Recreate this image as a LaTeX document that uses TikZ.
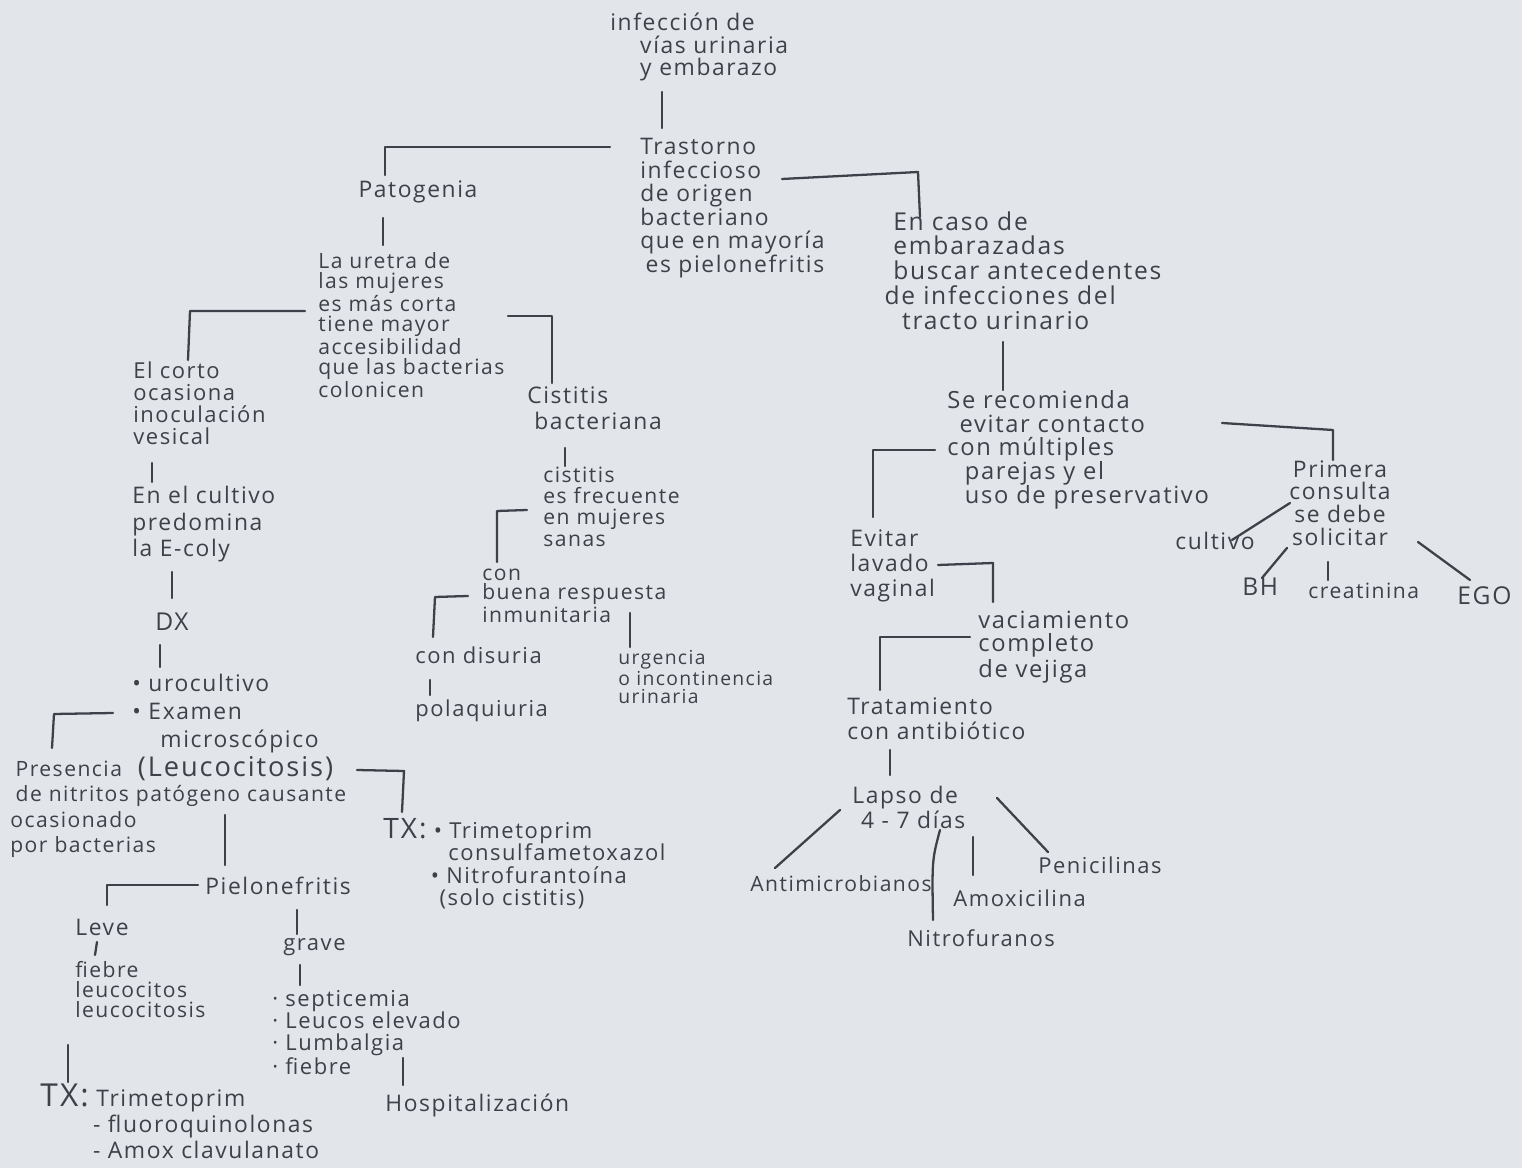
\documentclass[tikz,border=0pt]{standalone}
\usepackage{fontspec}
\setmainfont[LetterSpace=7]{Open Sans}
\definecolor{paper}{RGB}{226,229,234}
\definecolor{ink}{RGB}{62,65,74}
\newcommand{\fsz}[2]{\fontsize{#1}{#2}\selectfont}
\begin{document}
\begin{tikzpicture}[x=0.02cm,y=-0.02cm,
  txt/.style={anchor=north west, inner sep=0pt, align=left, text=ink},
  ln/.style={draw=ink, line width=1.3pt, line cap=round, line join=round}]
\useasboundingbox (0,0) rectangle (1522,1168);
\fill[paper] (0,0) rectangle (1522,1168);
% ---------- nodes ----------
\node[txt, font=\fsz{13}{12.8}] (top) at (610,13) {infección de\\\hspace*{17pt}vías urinaria\\\hspace*{17pt}y embarazo};
\node[txt, font=\fsz{13}{13.4}] (trast) at (640,138) {Trastorno\\infeccioso\\de origen\\bacteriano\\que en mayoría\\\hspace*{3pt}es pielonefritis};
\node[txt, anchor=center, font=\fsz{13}{13}] (pato) at (418,192) {Patogenia};
\node[txt, font=\fsz{12}{11.5}] (uretra) at (318,252) {La uretra de\\las mujeres\\es más corta\\tiene mayor\\accesibilidad\\que las bacterias\\colonicen};
\node[txt, font=\fsz{12.5}{12.6}] (corto) at (133,361) {El corto\\ocasiona\\inoculación\\vesical};
\node[txt, font=\fsz{13}{15}] (cultivo) at (132,486) {En el cultivo\\predomina\\la E-coly};
\node[txt, anchor=center, font=\fsz{14}{14}] (dx) at (172,622) {DX};
\node[txt, font=\fsz{13}{16}] (uro) at (132,674) {• urocultivo\\• Examen\\\hspace*{16pt}microscópico};
\node[txt, font=\fsz{12}{14.5}] (pres) at (10,756) {\hspace*{3pt}Presencia\hspace*{9pt}{\fsz{15.5}{14.5}(Leucocitosis)}\\\hspace*{3pt}de nitritos patógeno causante\\ocasionado\\por bacterias};
\node[txt, font=\fsz{12.5}{12.8}] (tx1) at (383,818) {{\fsz{16}{12.8}TX:} • Trimetoprim\\\hspace*{37pt}consulfametoxazol\\\hspace*{27pt}• Nitrofurantoína\\\hspace*{32pt}(solo cistitis)};
\node[txt, font=\fsz{13}{13}] (pielo) at (205,877) {Pielonefritis};
\node[txt, font=\fsz{13}{13}] (leve) at (75,919) {Leve};
\node[txt, font=\fsz{12}{11.4}] (fiebre) at (75,961) {fiebre\\leucocitos\\leucocitosis};
\node[txt, font=\fsz{13}{14.8}] (txb) at (40,1084) {{\fsz{18}{14.8}TX:} Trimetoprim\\\hspace*{30pt}- fluoroquinolonas\\\hspace*{30pt}- Amox clavulanato};
\node[txt, font=\fsz{12.5}{12.5}] (grave) at (283,938) {grave};
\node[txt, font=\fsz{12.5}{12.5}] (sept) at (272,990) {· septicemia\\· Leucos elevado\\· Lumbalgia\\· fiebre};
\node[txt, font=\fsz{13}{13}] (hosp) at (385,1094) {Hospitalización};
\node[txt, font=\fsz{13}{14.8}] (cisb) at (527,386) {Cistitis\\\hspace*{4pt}bacteriana};
\node[txt, font=\fsz{12}{12}] (cisf) at (543,467) {cistitis\\es frecuente\\en mujeres\\sanas};
\node[txt, font=\fsz{12}{10.8}] (buena) at (482,569) {con\\buena respuesta\\inmunitaria};
\node[txt, font=\fsz{12.5}{12.5}] (disu) at (415,646) {con disuria};
\node[txt, font=\fsz{12.5}{12.5}] (polaq) at (415,699) {polaquiuria};
\node[txt, font=\fsz{11}{10.5}] (urg) at (618,650) {urgencia\\o incontinencia\\urinaria};
\node[txt, font=\fsz{14}{14.2}] (embar) at (893,211) {En caso de\\embarazadas\\buscar antecedentes\\\hspace*{-5pt}de infecciones del\\\hspace*{5pt}tracto urinario};
\node[txt, font=\fsz{13.5}{13.5}] (recom) at (947,390) {Se recomienda\\\hspace*{7pt}evitar contacto\\con múltiples\\\hspace*{10pt}parejas y el\\\hspace*{10pt}uso de preservativo};
\node[txt, font=\fsz{13}{14.2}] (evitar) at (850,529) {Evitar\\lavado\\vaginal};
\node[txt, font=\fsz{13.5}{13}] (vacia) at (978,611) {vaciamiento\\completo\\de vejiga};
\node[txt, font=\fsz{13}{14.2}] (trat) at (847,697) {Tratamiento\\con antibiótico};
\node[txt, font=\fsz{13}{14.2}] (lapso) at (852,786) {Lapso de\\\hspace*{5pt}4 - 7 días};
\node[txt, font=\fsz{12}{12}] (antim) at (750,875) {Antimicrobianos};
\node[txt, font=\fsz{12.5}{12.5}] (nitro) at (907,929) {Nitrofuranos};
\node[txt, font=\fsz{12.5}{12.5}] (amox) at (953,889) {Amoxicilina};
\node[txt, font=\fsz{12.5}{12.5}] (penic) at (1038,856) {Penicilinas};
\node[txt, anchor=north, align=center, font=\fsz{13}{13}] (prim) at (1340,460) {Primera\\consulta\\se debe\\solicitar};
\node[txt, font=\fsz{13}{13}] (cultv) at (1175,532) {cultivo};
\node[txt, font=\fsz{14}{14}] (bh) at (1242,578) {BH};
\node[txt, font=\fsz{12}{12}] (creat) at (1308,583) {creatinina};
\node[txt, font=\fsz{14}{14}] (ego) at (1457,586) {EGO};
% ---------- connector ends ----------
\coordinate (a1) at (662,92);  \coordinate (a2) at (662,128);
\coordinate (b1) at (610,147); \coordinate (b2) at (385,147); \coordinate (b3) at (385,175);
\coordinate (c1) at (782,179); \coordinate (c2) at (918,172); \coordinate (c3) at (920,217);
\coordinate (d1) at (383,218); \coordinate (d2) at (383,245);
\coordinate (e1) at (305,311); \coordinate (e2) at (190,311); \coordinate (e3) at (188,360);
\coordinate (f1) at (508,316); \coordinate (f2) at (552,316); \coordinate (f3) at (552,383);
\coordinate (g1) at (152,463); \coordinate (g2) at (152,482);
\coordinate (h1) at (172,572); \coordinate (h2) at (172,598);
\coordinate (i1) at (160,645); \coordinate (i2) at (160,667);
\coordinate (j1) at (113,713); \coordinate (j2) at (54,714);  \coordinate (j3) at (52,748);
\coordinate (k1) at (357,770); \coordinate (k2) at (404,771); \coordinate (k3) at (402,812);
\coordinate (l1) at (225,815); \coordinate (l2) at (225,865);
\coordinate (m1) at (198,885); \coordinate (m2) at (107,885); \coordinate (m3) at (107,905);
\coordinate (n1) at (97,942);  \coordinate (n2) at (95,955);
\coordinate (o1) at (68,1045); \coordinate (o2) at (68,1082);
\coordinate (p1) at (297,910); \coordinate (p2) at (297,934);
\coordinate (q1) at (300,965); \coordinate (q2) at (300,985);
\coordinate (r1) at (403,1058);\coordinate (r2) at (403,1085);
\coordinate (s1) at (565,448); \coordinate (s2) at (565,466);
\coordinate (t1) at (527,510); \coordinate (t2) at (497,511); \coordinate (t3) at (497,562);
\coordinate (u1) at (468,596); \coordinate (u2) at (435,597); \coordinate (u3) at (433,637);
\coordinate (v1) at (630,613); \coordinate (v2) at (630,647);
\coordinate (w1) at (430,680); \coordinate (w2) at (430,695);
\coordinate (x1) at (1003,342);\coordinate (x2) at (1003,390);
\coordinate (y1) at (935,450); \coordinate (y2) at (873,450); \coordinate (y3) at (873,517);
\coordinate (z1) at (1222,423);\coordinate (z2) at (1333,430);\coordinate (z3) at (1333,460);
\coordinate (aa1) at (938,565);\coordinate (aa2) at (993,563);\coordinate (aa3) at (993,602);
\coordinate (bb1) at (970,637);\coordinate (bb2) at (880,637);\coordinate (bb3) at (880,690);
\coordinate (cc1) at (890,750);\coordinate (cc2) at (890,775);
\coordinate (dd1) at (840,810);\coordinate (dd2) at (775,868);
\coordinate (ee1) at (940,830);\coordinate (ee2) at (933,920);
\coordinate (ff1) at (973,837);\coordinate (ff2) at (973,875);
\coordinate (gg1) at (997,798);\coordinate (gg2) at (1048,852);
\coordinate (hh1) at (1290,503);\coordinate (hh2) at (1232,540);
\coordinate (ii1) at (1287,548);\coordinate (ii2) at (1262,578);
\coordinate (jj1) at (1328,562);\coordinate (jj2) at (1328,580);
\coordinate (kk1) at (1418,542);\coordinate (kk2) at (1470,580);
% ---------- connectors ----------
\draw[ln] (a1) -- (a2);
\draw[ln] (b1) -- (b2) -- (b3);
\draw[ln] (c1) -- (c2) -- (c3);
\draw[ln] (d1) -- (d2);
\draw[ln] (e1) -- (e2) -- (e3);
\draw[ln] (f1) -- (f2) -- (f3);
\draw[ln] (g1) -- (g2);
\draw[ln] (h1) -- (h2);
\draw[ln] (i1) -- (i2);
\draw[ln] (j1) -- (j2) -- (j3);
\draw[ln] (k1) -- (k2) -- (k3);
\draw[ln] (l1) -- (l2);
\draw[ln] (m1) -- (m2) -- (m3);
\draw[ln] (n1) -- (n2);
\draw[ln] (o1) -- (o2);
\draw[ln] (p1) -- (p2);
\draw[ln] (q1) -- (q2);
\draw[ln] (r1) -- (r2);
\draw[ln] (s1) -- (s2);
\draw[ln] (t1) -- (t2) -- (t3);
\draw[ln] (u1) -- (u2) -- (u3);
\draw[ln] (v1) -- (v2);
\draw[ln] (w1) -- (w2);
\draw[ln] (x1) -- (x2);
\draw[ln] (y1) -- (y2) -- (y3);
\draw[ln] (z1) -- (z2) -- (z3);
\draw[ln] (aa1) -- (aa2) -- (aa3);
\draw[ln] (bb1) -- (bb2) -- (bb3);
\draw[ln] (cc1) -- (cc2);
\draw[ln] (dd1) -- (dd2);
\draw[ln] (ee1) .. controls (932,860) .. (ee2);
\draw[ln] (ff1) -- (ff2);
\draw[ln] (gg1) -- (gg2);
\draw[ln] (hh1) -- (hh2);
\draw[ln] (ii1) -- (ii2);
\draw[ln] (jj1) -- (jj2);
\draw[ln] (kk1) -- (kk2);
\end{tikzpicture}
\end{document}
